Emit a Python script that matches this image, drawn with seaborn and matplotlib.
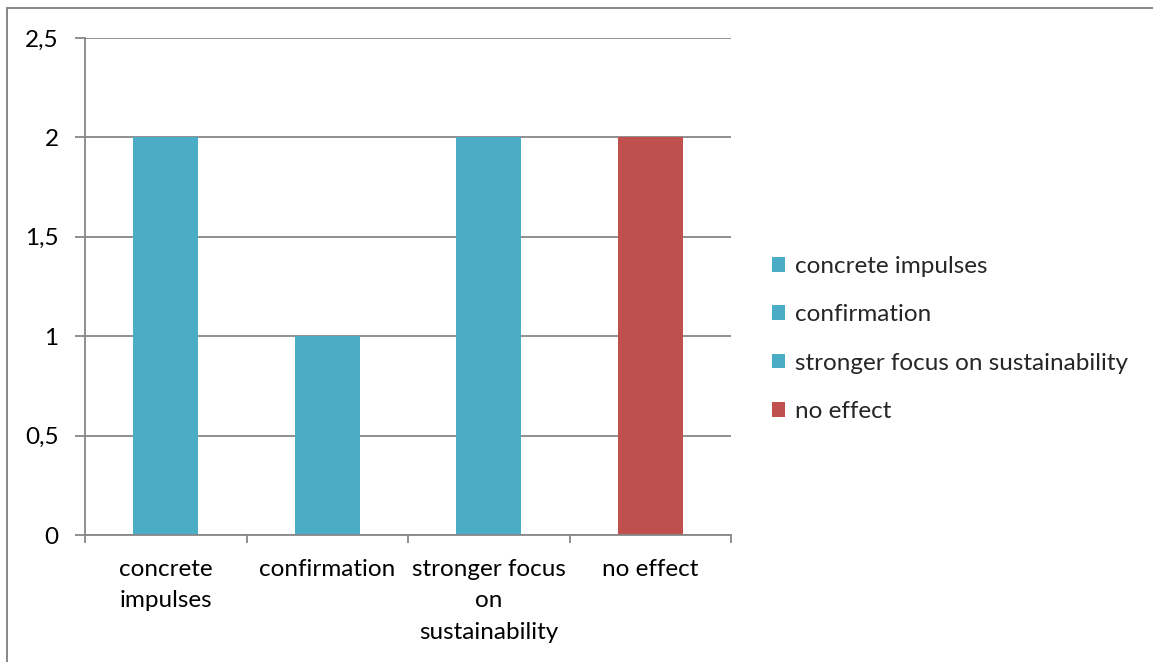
import matplotlib
matplotlib.use("Agg")
import matplotlib.pyplot as plt
from matplotlib.patches import Patch
from matplotlib.lines import Line2D
from matplotlib.ticker import FixedLocator, FuncFormatter
import seaborn as sns
import pandas as pd

categories = ["concrete impulses", "confirmation", "stronger focus on sustainability", "no effect"]
tick_labels = ["concrete\nimpulses", "confirmation", "stronger focus\non\nsustainability", "no effect"]
values = [2, 1, 2, 2]
colors = ["#4BACC6", "#4BACC6", "#4BACC6", "#C0504D"]

sns.set_theme(style="white")
plt.rcParams["font.family"] = ["Lato", "DejaVu Sans"]

W, H = 1153, 662
FS = 17.5
fig = plt.figure(figsize=(W / 100, H / 100), dpi=100)
ax = fig.add_axes([85 / W, 1 - 535 / H, (731 - 85) / W, (535 - 38) / H])

df = pd.DataFrame({"category": categories, "value": values})
sns.barplot(data=df, x="category", y="value", hue="category",
            palette=dict(zip(categories, colors)), width=0.4,
            dodge=False, legend=False, saturation=1, linewidth=0,
            edgecolor="none", ax=ax)

grid_color = "#878787"
ax.set_xlim(-0.5, len(categories) - 0.5)
ax.set_ylim(0, 2.5)
ax.set_yticks([0, 0.5, 1, 1.5, 2, 2.5])
ax.yaxis.set_major_formatter(FuncFormatter(lambda v, p: f"{v:g}".replace(".", ",")))
ax.yaxis.grid(True, color=grid_color, linewidth=1.3)
ax.set_axisbelow(True)
ax.set_xlabel("")
ax.set_ylabel("")

ax.set_xticks(range(len(categories)))
ax.set_xticklabels(tick_labels, fontsize=FS, linespacing=1.64, color="black")
ax.xaxis.set_minor_locator(FixedLocator([i - 0.5 for i in range(len(categories) + 1)]))
ax.tick_params(axis="x", which="major", bottom=True, length=0, pad=17)
ax.tick_params(axis="x", which="minor", bottom=True, length=6, width=1.3,
               color=grid_color, direction="out")
ax.tick_params(axis="y", left=True, length=7, width=1.3, color=grid_color, direction="out",
               pad=12, labelsize=FS, labelcolor="black")

for s in ["top", "right"]:
    ax.spines[s].set_visible(False)
for s in ["left", "bottom"]:
    ax.spines[s].set_color(grid_color)
    ax.spines[s].set_linewidth(1.3)

handles = [Patch(facecolor=c, edgecolor="none") for c in colors]
fig.legend(handles, categories, loc="center left", bbox_to_anchor=(772 / W, 1 - 339 / H),
           frameon=False, fontsize=FS, handlelength=0.55, handleheight=0.55,
           handletextpad=0.4, labelspacing=1.12, borderaxespad=0, borderpad=0)

# outer frame (top and left edges)
fig.add_artist(Line2D([7 / W, 1], [1 - 8 / H, 1 - 8 / H], transform=fig.transFigure,
                      color="#7f7f7f", linewidth=1.3))
fig.add_artist(Line2D([7 / W, 7 / W], [0, 1 - 8 / H], transform=fig.transFigure,
                      color="#7f7f7f", linewidth=1.3))

fig.savefig("out.png", dpi=100, facecolor="white")
